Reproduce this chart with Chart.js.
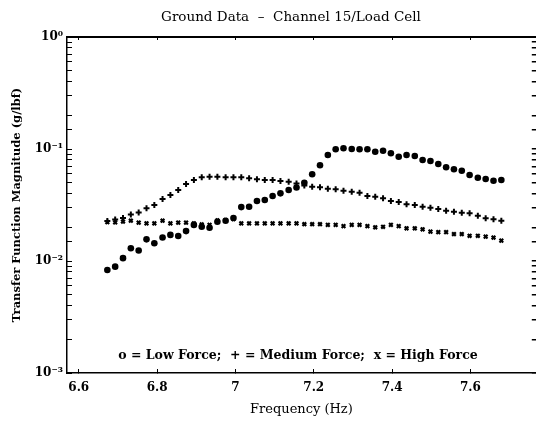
<!DOCTYPE html>
<html>
<head>
<meta charset="utf-8">
<style>
  body { margin: 0; background: #fff; }
  canvas { display: block; }
</style>
<script src="https://cdn.jsdelivr.net/npm/chart.js@4/dist/chart.umd.min.js"></script>
</head>
<body>
<canvas id="tf-chart" width="542" height="426"></canvas>
<script>
// data
const freqs = [6.673, 6.693, 6.713, 6.733, 6.753, 6.773, 6.793, 6.814, 6.834, 6.854,
  6.874, 6.894, 6.914, 6.934, 6.954, 6.975, 6.995, 7.015, 7.035, 7.055,
  7.075, 7.095, 7.115, 7.136, 7.156, 7.176, 7.196, 7.216, 7.236, 7.256,
  7.276, 7.297, 7.317, 7.337, 7.357, 7.377, 7.397, 7.417, 7.437, 7.458,
  7.478, 7.498, 7.518, 7.538, 7.558, 7.578, 7.598, 7.619, 7.639, 7.659, 7.679];

const lowForce = [0.0083, 0.0089, 0.0106, 0.0130, 0.0124, 0.0156, 0.0144, 0.0162, 0.0171, 0.0167,
  0.0185, 0.0210, 0.0202, 0.0198, 0.0224, 0.0229, 0.0242, 0.0303, 0.0305, 0.0343,
  0.0351, 0.0380, 0.0402, 0.0431, 0.0453, 0.0500, 0.0595, 0.0715, 0.0884, 0.0994,
  0.1014, 0.1000, 0.0994, 0.0994, 0.0946, 0.0966, 0.0915, 0.0853, 0.0884, 0.0866,
  0.0797, 0.0781, 0.0735, 0.0687, 0.0659, 0.0640, 0.0586, 0.0554, 0.0540, 0.0521, 0.0529];

const mediumForce = [0.0228, 0.0235, 0.0242, 0.0260, 0.0271, 0.0296, 0.0316, 0.0358, 0.0388, 0.0431,
  0.0487, 0.0529, 0.0559, 0.0566, 0.0566, 0.0559, 0.0559, 0.0559, 0.0547, 0.0536,
  0.0529, 0.0529, 0.0518, 0.0511, 0.0492, 0.0472, 0.0461, 0.0455, 0.0442, 0.0437,
  0.0424, 0.0416, 0.0407, 0.0381, 0.0375, 0.0363, 0.0343, 0.0336, 0.0321, 0.0316,
  0.0305, 0.0299, 0.0291, 0.0281, 0.0275, 0.0270, 0.0267, 0.0254, 0.0241, 0.0236, 0.0229];

const highForce = [0.0222, 0.0221, 0.0225, 0.0229, 0.0220, 0.0217, 0.0217, 0.0229, 0.0217, 0.0220,
  0.0220, 0.0217, 0.0212, 0.0210, 0.0230, 0.0232, 0.0237, 0.0217, 0.0217, 0.0217,
  0.0217, 0.0217, 0.0217, 0.0217, 0.0217, 0.0213, 0.0213, 0.0213, 0.0210, 0.0210,
  0.0205, 0.0210, 0.0210, 0.0205, 0.0200, 0.0202, 0.0210, 0.0205, 0.0196, 0.0196,
  0.0192, 0.0183, 0.0181, 0.0181, 0.0174, 0.0174, 0.0168, 0.0168, 0.0165, 0.0162, 0.0152];

const xTicks = [6.6, 6.8, 7, 7.2, 7.4, 7.6];
const xTickLabels = ["6.6", "6.8", "7", "7.2", "7.4", "7.6"];
const yDecadeLabels = {"-3": "10⁻³", "-2": "10⁻²", "-1": "10⁻¹", "0": "10⁰"};

const titleText = "Ground Data  –  Channel 15/Load Cell";
const legendText = "o = Low Force;  + = Medium Force;  x = High Force";

function pairs(ys) {
  return ys.map((y, i) => ({x: freqs[i], y: y}));
}

const serif = "'DejaVu Serif', 'Liberation Serif', serif";

// title over the plot + legend line inside the plot
const textLines = {
  id: 'textLines',
  afterDraw(chart) {
    const ctx = chart.ctx;
    ctx.save();
    ctx.fillStyle = '#000';
    ctx.textAlign = 'center';
    ctx.textBaseline = 'middle';
    ctx.font = "13.5px " + serif;
    ctx.fillText(titleText, 291, 17);
    ctx.font = "bold 12.5px " + serif;
    ctx.fillText(legendText, 298, 356);
    ctx.restore();
  }
};

function decadeLabel(value) {
  const lg = Math.log10(value);
  const r = Math.round(lg);
  if (Math.abs(lg - r) < 1e-6) return yDecadeLabels[String(r)];
  return '';
}

const tfCanvas = document.getElementById('tf-chart');
const tfChart = new Chart(tfCanvas, {
  type: 'scatter',
  data: {
    datasets: [{
      label: 'Low Force',
      data: pairs(lowForce),
      pointStyle: 'circle',
      pointRadius: 3.3,
      backgroundColor: '#000',
      borderColor: '#000',
      borderWidth: 0
    }, {
      label: 'Medium Force',
      data: pairs(mediumForce),
      pointStyle: 'cross',
      pointRadius: 3,
      borderColor: '#000',
      borderWidth: 2
    }, {
      label: 'High Force',
      data: pairs(highForce),
      pointStyle: 'crossRot',
      pointRadius: 2.6,
      borderColor: '#000',
      borderWidth: 2.2
    }]
  },
  options: {
    responsive: false,
    devicePixelRatio: 1,
    animation: false,
    layout: { padding: { top: 37, left: 0, right: 0, bottom: 0 } },
    plugins: {
      legend: { display: false },
      tooltip: { enabled: false },
      title: { display: false }
    },
    scales: {
      x: {
        type: 'linear',
        position: 'bottom',
        min: 6.57,
        max: 7.767,
        afterBuildTicks: s => { s.ticks = xTicks.map(v => ({value: v})); },
        afterFit: s => { s.height = 53; },
        border: { display: true, color: '#000', width: 1.5 },
        grid: { drawOnChartArea: false, tickLength: -4, color: '#000', lineWidth: 1 },
        ticks: {
          color: '#000',
          font: { family: serif, size: 12, weight: 'bold' },
          padding: 12,
          maxRotation: 0,
          autoSkip: false,
          callback: (v, i) => xTickLabels[i]
        },
        title: {
          display: true,
          text: 'Frequency (Hz)',
          color: '#000',
          font: { family: serif, size: 13 },
          padding: { top: 0, bottom: 9 }
        }
      },
      xTop: {
        type: 'linear',
        position: 'top',
        min: 6.57,
        max: 7.767,
        afterBuildTicks: s => { s.ticks = xTicks.map(v => ({value: v})); },
        afterFit: s => { s.height = 0; },
        border: { display: true, color: '#000', width: 2 },
        grid: { drawOnChartArea: false, tickLength: -3, color: '#000', lineWidth: 1 },
        ticks: { display: false }
      },
      y: {
        type: 'logarithmic',
        position: 'left',
        min: 0.001,
        max: 1,
        afterFit: s => { s.width = 67; },
        border: { display: true, color: '#000', width: 1.5 },
        grid: { drawOnChartArea: false, tickLength: -5, color: '#000', lineWidth: 1 },
        ticks: {
          color: '#000',
          font: { family: serif, size: 12, weight: 'bold' },
          padding: 9,
          autoSkip: false,
          callback: v => decadeLabel(v)
        },
        title: {
          display: true,
          text: 'Transfer Function Magnitude (g/lbf)',
          color: '#000',
          font: { family: serif, size: 11.5, weight: 'bold' },
          padding: { top: 10, bottom: 0 }
        }
      },
      yRight: {
        type: 'logarithmic',
        position: 'right',
        min: 0.001,
        max: 1,
        afterFit: s => { s.width = 2; },
        border: { display: false },
        grid: { drawOnChartArea: false, tickLength: -4, color: '#000', lineWidth: 1.5 },
        ticks: { display: false, autoSkip: false }
      }
    }
  },
  plugins: [textLines]
});
</script>
</body>
</html>
